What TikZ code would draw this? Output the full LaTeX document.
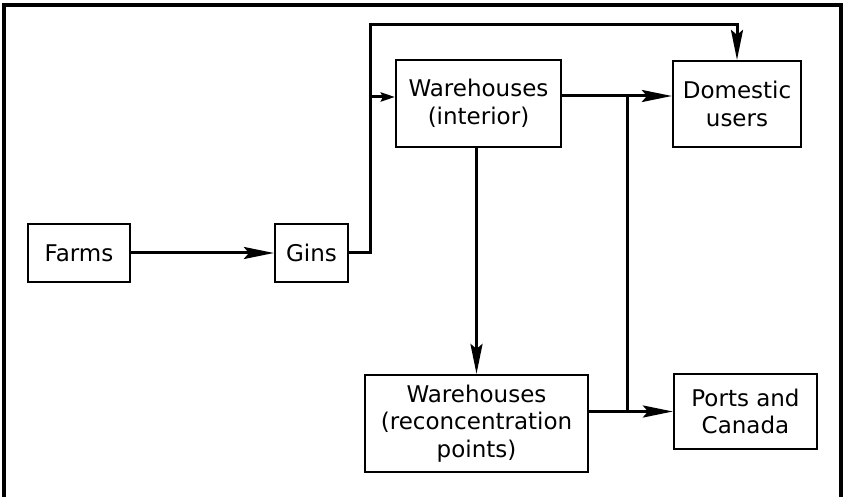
\documentclass[tikz,border=0pt]{standalone}
\usepackage{fontspec}
\setmainfont{DejaVu Sans}
\usetikzlibrary{arrows.meta}
\begin{document}
\begin{tikzpicture}[x=1pt,y=-1pt,
  box/.style={draw,line width=2.2pt,inner sep=0pt,align=center,
    font=\fontsize{23}{27.5}\selectfont},
  flow/.style={line width=3pt},
  bigtip/.style={-{Stealth[length=30pt,width=12pt,inset=5pt]}},
  smalltip/.style={-{Stealth[length=14pt,width=9pt,inset=2pt]}}]
\useasboundingbox (0,0) rectangle (844,497);
\draw[line width=3.5pt] (4,497) -- (4,5) -- (841,5) -- (841,497);
\node[box,minimum width=102pt,minimum height=58pt] (farms) at (79,253) {Farms};
\node[box,minimum width=73pt,minimum height=58pt] (gins) at (311.5,253) {Gins};
\node[box,minimum width=165pt,minimum height=87pt] (wi) at (478.5,103.5) {Warehouses\\(interior)};
\node[box,minimum width=128pt,minimum height=86pt] (dom) at (737,104) {Domestic\\users};
\node[box,minimum width=223pt,minimum height=97pt] (rc) at (476.5,423.5) {Warehouses\\(reconcentration\\points)};
\node[box,minimum width=143pt,minimum height=75pt] (ports) at (745.5,411.5) {Ports and\\Canada};
\coordinate (split) at (370,97);
\coordinate (jt) at (627,96);
\coordinate (jb) at (627,412);
\draw[flow,bigtip] (farms) -- (gins);
\draw[flow,bigtip] (gins.east) -- (gins.east -| split) -- (370,25) -- (dom.north |- 0,25) -- (dom.north);
\draw[flow,smalltip] (split) -- (wi.west |- split);
\draw[flow,bigtip] (wi.east |- jt) -- (dom.west |- jt);
\draw[flow] (jt) -- (jb);
\draw[flow,bigtip] (rc.east |- ports.west) -- (ports.west);
\draw[flow,bigtip] (rc.north |- wi.south) -- (rc.north);
\end{tikzpicture}
\end{document}
